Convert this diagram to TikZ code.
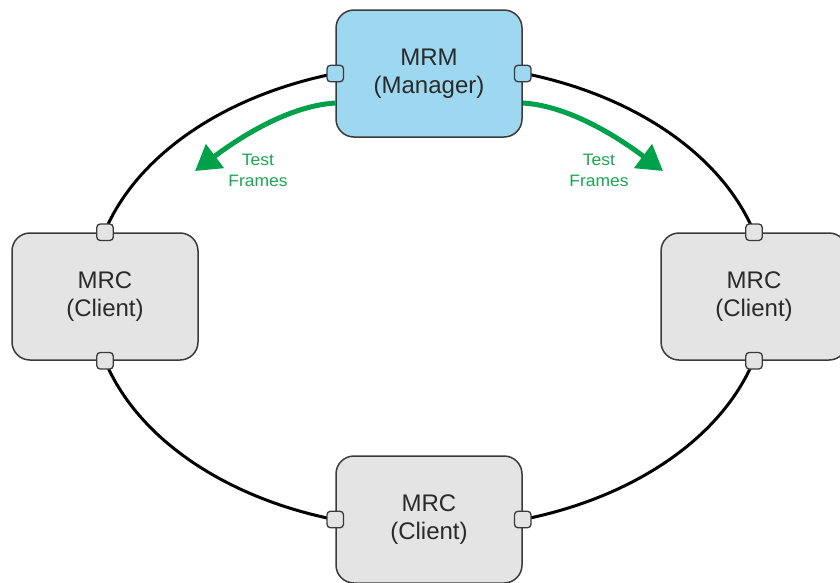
\documentclass[tikz,border=0pt]{standalone}
\usepackage{fontspec}
\setmainfont{Liberation Sans}
\newfontfamily\greenlabelfont[FakeStretch=1.06]{Liberation Sans}
\usetikzlibrary{arrows.meta,backgrounds,calc}
\definecolor{mrmblue}{HTML}{9DD8F0}
\definecolor{mrcgray}{HTML}{E4E4E4}
\definecolor{boxline}{HTML}{3A3A3A}
\definecolor{txtgray}{HTML}{2A2A2A}
\definecolor{arrowgreen}{HTML}{00A14B}
\definecolor{labelgreen}{HTML}{1AA552}
\begin{document}
\begin{tikzpicture}[x=1pt,y=1pt,
  unitbox/.style={draw=boxline, line width=1.5pt, rounded corners=18pt,
    minimum width=186pt, minimum height=127pt, inner sep=0pt, align=center,
    text=txtgray, font=\fontsize{24}{28.5}\selectfont},
  manager/.style={unitbox, fill=mrmblue},
  client/.style={unitbox, fill=mrcgray},
  port/.style={draw=boxline, line width=1.3pt, rounded corners=3.5pt,
    minimum size=16.5pt, inner sep=0pt},
  ring/.style={draw=black, line width=3pt},
  garrow/.style={draw=arrowgreen, line width=5pt, -{Triangle[length=25pt,width=29pt]}},
  glabel/.style={text=labelgreen, align=center, font=\greenlabelfont\fontsize{16.5}{21}\selectfont}
]
\useasboundingbox (0,0) rectangle (840,-582);
\clip (0,0) rectangle (840,-582);

% boxes
\node[manager] (mrm) at (429,-73.5) {MRM\\(Manager)};
\node[client] (left) at (105,-296.5) {MRC\\(Client)};
\node[client] (right) at (754,-296.5) {MRC\\(Client)};
\node[client] (bottom) at (429,-519.5) {MRC\\(Client)};

% ports
\node[port, fill=mrmblue] (pTL) at (mrm.west) {};
\node[port, fill=mrmblue] (pTR) at (mrm.east) {};
\node[port, fill=mrcgray] (pLT) at (left.north) {};
\node[port, fill=mrcgray] (pLB) at (left.south) {};
\node[port, fill=mrcgray] (pRT) at (right.north) {};
\node[port, fill=mrcgray] (pRB) at (right.south) {};
\node[port, fill=mrcgray] (pBL) at (bottom.west) {};
\node[port, fill=mrcgray] (pBR) at (bottom.east) {};

% ring
\begin{scope}[on background layer]
  \draw[ring] (pTL.center) arc[start angle=106.1, end angle=164.1, x radius=337.4pt, y radius=231.6pt];
  \draw[ring] (pLB.center) arc[start angle=195.9, end angle=253.9, x radius=337.4pt, y radius=231.6pt];
  \draw[ring] (pBR.center) arc[start angle=286.1, end angle=344.1, x radius=337.4pt, y radius=231.6pt];
  \draw[ring] (pRT.center) arc[start angle=15.9, end angle=73.9, x radius=337.4pt, y radius=231.6pt];
\end{scope}

% test frame arrows
\coordinate (gL) at ($(mrm.west)+(0,-29.5)$);
\coordinate (gR) at ($(mrm.east)+(0,-29.5)$);
\coordinate (tipL) at (195,-171);
\coordinate (tipR) at (663,-171);
\begin{scope}[on background layer]
  \draw[garrow] (gL) .. controls (286,-106) and (235,-141) .. (tipL);
  \draw[garrow] (gR) .. controls (572,-106) and (623,-141) .. (tipR);
\end{scope}
\node[glabel] (labL) at (258,-170.5) {Test\\Frames};
\node[glabel] (labR) at (599,-170.5) {Test\\Frames};
\end{tikzpicture}
\end{document}
